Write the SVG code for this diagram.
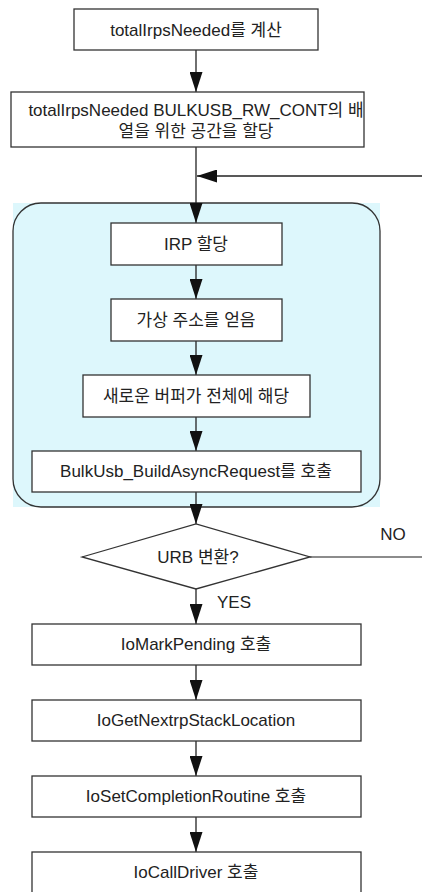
<svg xmlns="http://www.w3.org/2000/svg" width="422" height="892" viewBox="0 0 422 892">
<style>
.box{fill:#fff;stroke:#333;stroke-width:1.3}
.t{font-family:"Liberation Sans","Noto Sans CJK KR",sans-serif;font-size:17px;fill:#222;text-anchor:middle}
.c{stroke:#222;stroke-width:1.3;fill:none}
.g{stroke:#666;stroke-width:1.5;fill:none}
</style>
<defs>
<marker id="ah" markerUnits="userSpaceOnUse" markerWidth="20" markerHeight="13" refX="20" refY="6.5" orient="auto">
<path d="M0,0 L20,6.5 L0,13 z" fill="#111"/>
</marker>
</defs>
<g id="loop">
<rect x="13" y="203" width="367" height="304" fill="#ddf7fc"/>
<rect x="13" y="203" width="367" height="304" rx="28" ry="28" fill="none" stroke="#333" stroke-width="1.3"/>
</g>
<g id="connectors">
<line class="c" x1="196" y1="50" x2="196" y2="92" marker-end="url(#ah)"/>
<line class="c" x1="196" y1="147" x2="196" y2="223" marker-end="url(#ah)"/>
<line class="c" x1="422" y1="176" x2="197" y2="176" marker-end="url(#ah)"/>
<line class="c" x1="196" y1="265" x2="196" y2="299" marker-end="url(#ah)"/>
<line class="c" x1="196" y1="341" x2="196" y2="375" marker-end="url(#ah)"/>
<line class="c" x1="196" y1="417" x2="196" y2="451" marker-end="url(#ah)"/>
<line class="c" x1="196" y1="492" x2="196" y2="524" marker-end="url(#ah)"/>
<line class="g" x1="310" y1="557" x2="422" y2="557"/>
<line class="c" x1="196" y1="589" x2="196" y2="624" marker-end="url(#ah)"/>
<line class="c" x1="196" y1="665" x2="196" y2="700" marker-end="url(#ah)"/>
<line class="c" x1="196" y1="741" x2="196" y2="776" marker-end="url(#ah)"/>
<line class="c" x1="196" y1="817" x2="196" y2="852" marker-end="url(#ah)"/>
<text class="t" x="393" y="540">NO</text>
<text class="t" x="234" y="608">YES</text>
</g>
<g id="n1"><rect class="box" x="74" y="9" width="244" height="41"/><text class="t" x="196" y="36">totalIrpsNeeded를 계산</text></g>
<g id="n2"><rect class="box" x="11" y="92" width="353" height="55"/><text class="t" x="196" y="116">totalIrpsNeeded BULKUSB_RW_CONT의 배</text><text class="t" x="196" y="137">열을 위한 공간을 할당</text></g>
<g id="n3"><rect class="box" x="111" y="223" width="171" height="42"/><text class="t" x="196" y="250">IRP 할당</text></g>
<g id="n4"><rect class="box" x="111" y="299" width="171" height="42"/><text class="t" x="196" y="326">가상 주소를 얻음</text></g>
<g id="n5"><rect class="box" x="83" y="375" width="227" height="42"/><text class="t" x="196" y="402">새로운 버퍼가 전체에 해당</text></g>
<g id="n6"><rect class="box" x="32" y="451" width="329" height="41"/><text class="t" x="196" y="477">BulkUsb_BuildAsyncRequest를 호출</text></g>
<g id="n7"><polygon class="box" points="82,557 196,524 310,557 196,589"/><text class="t" x="198" y="563">URB 변환?</text></g>
<g id="n8"><rect class="box" x="32" y="624" width="329" height="41"/><text class="t" x="196" y="650">IoMarkPending 호출</text></g>
<g id="n9"><rect class="box" x="32" y="700" width="329" height="41"/><text class="t" x="196" y="726">IoGetNextrpStackLocation</text></g>
<g id="n10"><rect class="box" x="32" y="776" width="329" height="41"/><text class="t" x="196" y="802">IoSetCompletionRoutine 호출</text></g>
<g id="n11"><rect class="box" x="32" y="852" width="329" height="44"/><text class="t" x="196" y="878">IoCallDriver 호출</text></g>
</svg>
